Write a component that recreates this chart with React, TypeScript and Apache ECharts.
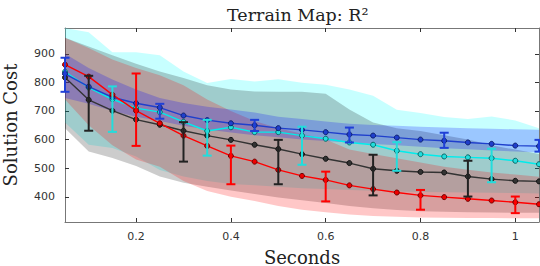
import React, { useEffect, useRef } from "react";
import * as echarts from "echarts";

const xs = [0.05, 0.1, 0.15, 0.2, 0.25, 0.3, 0.35, 0.4, 0.45, 0.5, 0.55, 0.6, 0.65, 0.7, 0.75, 0.8, 0.85, 0.9, 0.95, 1.0, 1.05];

const redMean = [862, 820, 757, 701, 657, 614, 578, 543, 523, 494, 473, 459, 440, 427, 415, 405, 399, 393, 387, 381, 374];
const blackMean = [817, 739, 701, 670, 652, 631, 614, 599, 582, 567, 549, 533, 518, 498, 491, 487, 485, 471, 462, 456, 454];
const cyanMean = [837, 782, 741, 710, 696, 662, 630, 643, 626, 626, 614, 603, 590, 582, 561, 549, 541, 538, 535, 526, 514];
const blueMean = [830, 785, 748, 727, 712, 684, 668, 657, 650, 640, 634, 626, 618, 614, 607, 600, 596, 590, 585, 579, 577];

const cyanUp = [990, 975, 905, 905, 895, 838, 798, 812, 803, 811, 799, 792, 775, 753, 704, 693, 679, 672, 681, 667, 640];
const cyanLo = [660, 582, 571, 541, 494, 471, 455, 445, 440, 435, 430, 427, 424, 421, 419, 417, 416, 415, 414, 413, 412];
const grayUp = [956, 925, 895, 865, 838, 815, 790, 775, 768, 767, 767, 760, 705, 660, 640, 630, 615, 600, 580, 565, 550];
const grayLo = [640, 558, 536, 508, 471, 449, 435, 422, 410, 398, 388, 378, 368, 360, 354, 350, 348, 346, 345, 344, 344];
const redUp = [956, 920, 880, 850, 825, 790, 740, 700, 665, 640, 620, 600, 565, 550, 535, 520, 505, 495, 485, 478, 470];
const redLo = [740, 650, 580, 530, 505, 455, 420, 400, 385, 368, 355, 346, 338, 333, 330, 328, 327, 326, 326, 325, 325];
const blueUp = [900, 850, 810, 775, 745, 728, 715, 705, 695, 680, 672, 663, 655, 651, 648, 645, 642, 640, 638, 636, 634];
const blueLo = [745, 725, 700, 680, 665, 648, 635, 625, 615, 608, 600, 595, 590, 585, 580, 575, 570, 566, 562, 558, 555];

const redErrX = [0.2, 0.4, 0.6, 0.8, 1.0];
const redErrLo = [578, 444, 384, 355, 343];
const redErrHi = [831, 579, 488, 424, 401];
const blackErrX = [0.1, 0.3, 0.5, 0.7, 0.9];
const blackErrLo = [631, 523, 444, 405, 401];
const blackErrHi = [823, 661, 599, 547, 526];
const cyanErrX = [0.15, 0.35, 0.55, 0.75, 0.95];
const cyanErrLo = [627, 544, 512, 491, 451];
const cyanErrHi = [786, 669, 645, 591, 568];
const blueErrX = [0.05, 0.25, 0.45, 0.65, 0.85, 1.05];
const blueErrLo = [767, 673, 630, 590, 571, 558];
const blueErrHi = [886, 725, 669, 642, 624, 599];

const xTicks = [0.2, 0.4, 0.6, 0.8, 1];
const yTicks = [400, 500, 600, 700, 800, 900];

function band(up: number[], lo: number[], fill: string, z: number) {
  return {
    type: "custom",
    coordinateSystem: "cartesian2d",
    silent: true,
    clip: true,
    z,
    data: [[xs[0], lo[0]]],
    encode: { x: 0, y: 1 },
    renderItem: (_p: any, api: any) => {
      const pts: number[][] = [];
      for (let i = 0; i < xs.length; i++) pts.push(api.coord([xs[i], up[i]]));
      for (let i = xs.length - 1; i >= 0; i--) pts.push(api.coord([xs[i], lo[i]]));
      return { type: "polygon", shape: { points: pts }, style: { fill, stroke: "none" } };
    },
  };
}

function errBars(ex: number[], lo: number[], hi: number[], color: string, z: number) {
  return {
    type: "custom",
    coordinateSystem: "cartesian2d",
    silent: true,
    clip: false,
    z,
    data: ex.map((x, i) => [x, lo[i], hi[i]]),
    encode: { x: 0, y: [1, 2] },
    renderItem: (_p: any, api: any) => {
      const x = api.value(0);
      const a = api.coord([x, api.value(1)]);
      const b = api.coord([x, api.value(2)]);
      const w = 4.5;
      const style = { stroke: color, lineWidth: 2 };
      return {
        type: "group",
        children: [
          { type: "line", shape: { x1: a[0], y1: a[1], x2: b[0], y2: b[1] }, style },
          { type: "line", shape: { x1: a[0] - w, y1: a[1], x2: a[0] + w, y2: a[1] }, style },
          { type: "line", shape: { x1: b[0] - w, y1: b[1], x2: b[0] + w, y2: b[1] }, style },
        ],
      };
    },
  };
}

function line(vals: number[], color: string, fill: string, border: string, z: number) {
  return {
    type: "line",
    z,
    data: xs.map((x, i) => [x, vals[i]]),
    symbol: "circle",
    symbolSize: 5,
    showSymbol: true,
    lineStyle: { color, width: 1.4 },
    itemStyle: { color: fill, borderColor: border, borderWidth: 1 },
    silent: true,
  };
}

export default function App() {
  const ref = useRef<HTMLDivElement>(null);
  useEffect(() => {
    const chart = echarts.init(ref.current!, null, { renderer: "svg" });
    const axisLine = { show: true, lineStyle: { color: "#777", width: 1 } };
    const tickStyle = { color: "#333", width: 1 };
    chart.setOption({
      animation: false,
      backgroundColor: "#fff",
      title: {
        text: "Terrain Map: R²",
        left: 222,
        top: 1,
        textStyle: { fontFamily: "DejaVu Serif", fontSize: 17.5, fontWeight: "normal", color: "#222" },
      },
      grid: { left: 65, right: 1, top: 28, bottom: 44, containLabel: false, outerBoundsMode: "none" },
      xAxis: [
        {
          type: "value",
          min: 0.05,
          max: 1.05,
          position: "bottom",
          axisLine,
          axisTick: { show: true, inside: true, length: 4, customValues: xTicks, lineStyle: tickStyle },
          axisLabel: { customValues: xTicks, formatter: (v: number) => String(v), fontFamily: "DejaVu Sans", fontSize: 11, color: "#333", margin: 9 },
          splitLine: { show: false },
          name: "Seconds",
          nameLocation: "middle",
          nameGap: 26,
          nameTextStyle: { fontFamily: "DejaVu Serif", fontSize: 18, color: "#222" },
        },
        {
          type: "value",
          min: 0.05,
          max: 1.05,
          position: "top",
          axisLine,
          axisTick: { show: true, inside: true, length: 4, customValues: xTicks, lineStyle: tickStyle },
          axisLabel: { show: false },
          splitLine: { show: false },
        },
      ],
      yAxis: [
        {
          type: "value",
          min: 312,
          max: 990,
          position: "left",
          axisLine,
          axisTick: { show: true, inside: true, length: 4, customValues: yTicks, lineStyle: tickStyle },
          axisLabel: { customValues: yTicks, fontFamily: "DejaVu Sans", fontSize: 11, color: "#333", margin: 10 },
          splitLine: { show: false },
          name: "Solution Cost",
          nameLocation: "middle",
          nameGap: 46,
          nameTextStyle: { fontFamily: "DejaVu Serif", fontSize: 18, color: "#222" },
        },
        {
          type: "value",
          min: 312,
          max: 990,
          position: "right",
          axisLine,
          axisTick: { show: true, inside: true, length: 4, customValues: yTicks, lineStyle: tickStyle },
          axisLabel: { show: false },
          splitLine: { show: false },
        },
      ],
      series: [
        band(cyanUp, cyanLo, "rgba(0,255,255,0.22)", 1),
        band(grayUp, grayLo, "rgba(0,0,0,0.2)", 1),
        band(redUp, redLo, "rgba(255,0,0,0.22)", 1),
        band(blueUp, blueLo, "rgba(0,0,255,0.22)", 1),
        line(blackMean, "#333333", "#333333", "#111111", 3),
        line(cyanMean, "#00ecec", "#22dddd", "#0a6666", 3),
        line(blueMean, "#1f3fcc", "#1f3fcc", "#0d1f70", 3),
        line(redMean, "#ff0000", "#ee0000", "#700000", 3),
        errBars(blackErrX, blackErrLo, blackErrHi, "#222222", 4),
        errBars(cyanErrX, cyanErrLo, cyanErrHi, "#22dddd", 4),
        errBars(blueErrX, blueErrLo, blueErrHi, "#1f3fd6", 4),
        errBars(redErrX, redErrLo, redErrHi, "#ff0000", 4),
      ],
    });
    return () => chart.dispose();
  }, []);
  return <div ref={ref} style={{ position: "absolute", left: 0, top: 0, width: 540, height: 266 }} />;
}
